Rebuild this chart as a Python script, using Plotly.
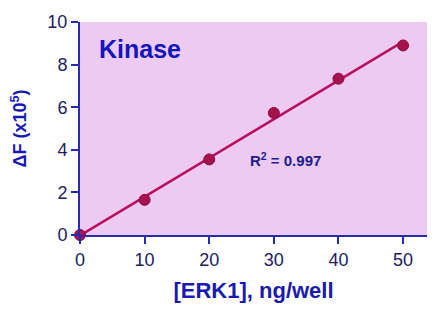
import numpy as np
import plotly.graph_objects as go

erk1 = [0, 10, 20, 30, 40, 50]
delta_f = [0.0, 1.65, 3.55, 5.73, 7.34, 8.9]
x_ticks = [0, 10, 20, 30, 40, 50]
y_ticks = [0, 2, 4, 6, 8, 10]

slope, intercept = np.polyfit(erk1, delta_f, 1)
fit_x = [0, 50]
fit_y = [intercept + slope * v for v in fit_x]

navy = "#1c1c8c"
fig = go.Figure()
fig.add_trace(go.Scatter(x=fit_x, y=fit_y, mode="lines",
                         line=dict(color="#b8105e", width=2.5),
                         hoverinfo="skip", cliponaxis=False))
fig.add_trace(go.Scatter(x=erk1, y=delta_f, mode="markers",
                         marker=dict(size=11, color="#a8104e",
                                     line=dict(color="#80103c", width=1)),
                         cliponaxis=False))

fig.update_layout(
    width=439, height=317,
    margin=dict(l=80, r=12, t=17, b=82),
    paper_bgcolor="white",
    plot_bgcolor="#eccaf2",
    showlegend=False,
    font=dict(family="Liberation Sans, Arial, sans-serif", color=navy),
    xaxis=dict(range=[0, 53.7], tickvals=x_ticks, showgrid=False, zeroline=False,
               showline=True, linecolor="#2a2ab0", linewidth=2,
               ticks="outside", ticklen=7, tickwidth=2, tickcolor="#2a2ab0",
               tickfont=dict(size=18, color="#202060"),
               title=dict(text="<b>[ERK1], ng/well</b>",
                          font=dict(size=22, color="#1a1ab0"), standoff=14)),
    yaxis=dict(range=[0, 10], tickvals=y_ticks, showgrid=False, zeroline=False,
               showline=True, linecolor="#2a2ab0", linewidth=2,
               ticks="outside", ticklen=7, tickwidth=2, tickcolor="#2a2ab0",
               tickfont=dict(size=18, color="#202060"),
               title=dict(text="<b>ΔF (x10<sup>5</sup>)</b>",
                          font=dict(size=18, color="#1a1ab0"), standoff=16)),
    annotations=[
        dict(x=0.05, y=0.875, xref="paper", yref="paper", xanchor="left", yanchor="middle",
             text="<b>Kinase</b>", showarrow=False,
             font=dict(size=25, color="#1414c0")),
        dict(x=0.485, y=0.355, xref="paper", yref="paper", xanchor="left", yanchor="middle",
             text="<b>R<sup>2</sup> = 0.997</b>", showarrow=False,
             font=dict(size=15, color="#1c1c8c")),
    ],
)
fig.write_html("out.html")
